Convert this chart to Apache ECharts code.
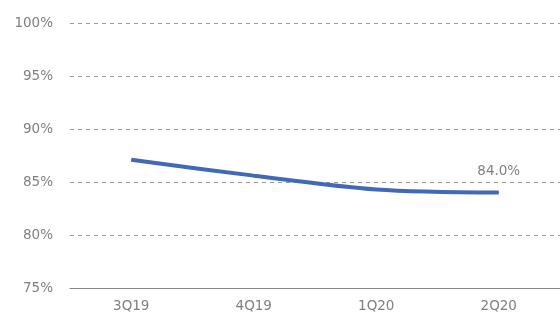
<!DOCTYPE html>
<html>
<head>
    <meta charset="utf-8">
    <title>Line chart</title>
    <script src="https://cdn.jsdelivr.net/npm/echarts@6/dist/echarts.min.js"></script>
</head>
<body style="margin:0">
    <div id="main" style="width: 560px;height:321px;"></div>
    <script type="text/javascript">
        var categories = ['3Q19', '4Q19', '1Q20', '2Q20'];
        var values = [87.1, 85.6, 84.3, 84.0];
        var yTicks = [75, 80, 85, 90, 95, 100];

        var myChart = echarts.init(document.getElementById('main'));

        // only the last point carries a value label
        var seriesData = values.map(function (v, i) {
            return {
                value: v,
                label: { show: i === values.length - 1 }
            };
        });

        var option = {
            animation: false,
            textStyle: { fontFamily: 'DejaVu Sans' },
            grid: { left: 70, top: 23, width: 495, bottom: 33 },
            xAxis: {
                type: 'category',
                data: categories,
                axisTick: { show: false },
                axisLine: { lineStyle: { color: '#888', width: 1 } },
                axisLabel: { color: '#808080', fontSize: 13.5, margin: 11 }
            },
            yAxis: {
                type: 'value',
                min: yTicks[0],
                max: yTicks[yTicks.length - 1],
                interval: 5,
                axisLine: { show: false },
                axisTick: { show: false },
                axisLabel: { color: '#808080', fontSize: 13.5, margin: 17,
                    formatter: function (v) { return v + '%'; } },
                splitLine: { lineStyle: { color: '#999', type: [4, 4], width: 1 } }
            },
            series: [{
                type: 'line',
                data: seriesData,
                smooth: 0.3,
                symbol: 'circle',
                symbolSize: 1,
                showSymbol: true,
                itemStyle: { color: '#4169B4' },
                lineStyle: { color: '#4169B4', width: 4 },
                label: {
                    position: 'top',
                    distance: 14,
                    color: '#808080',
                    fontSize: 13.5,
                    formatter: function (p) { return p.value.toFixed(1) + '%'; }
                }
            }]
        };
        myChart.setOption(option);
    </script>
</body>
</html>
